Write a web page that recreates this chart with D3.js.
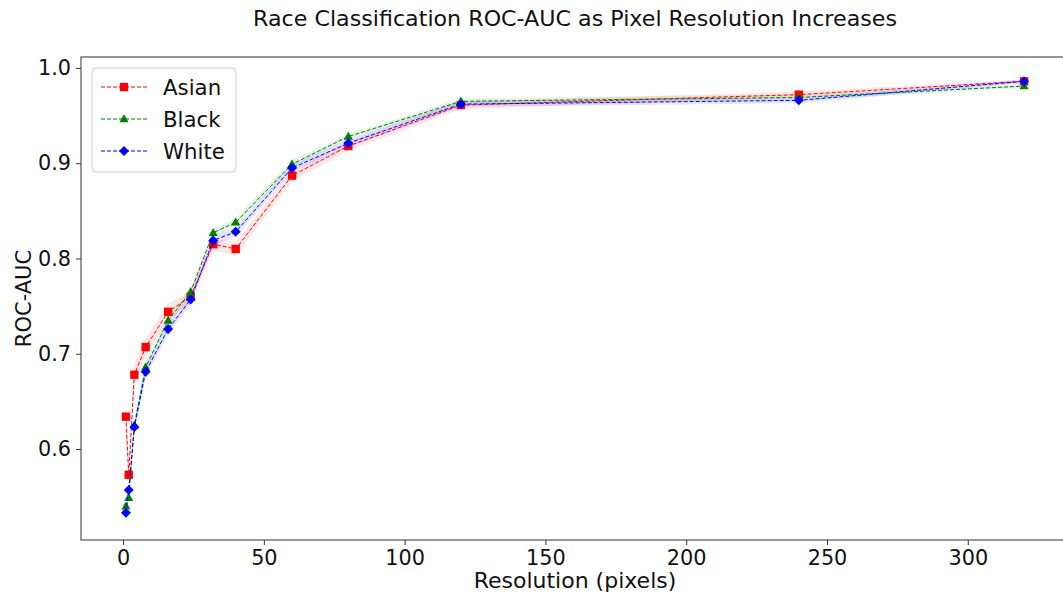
<!DOCTYPE html>
<html>
<head>
<meta charset="utf-8">
<script src="https://cdn.jsdelivr.net/npm/d3@7"></script>
<style>
  body { margin: 0; background: #fff; }
  svg { font-family: "DejaVu Sans", sans-serif; }
</style>
</head>
<body>
<script>
// chart data
const resolutions = [1, 2, 4, 8, 16, 24, 32, 40, 60, 80, 120, 240, 320];
const asian = [0.634, 0.573, 0.678, 0.707, 0.744, 0.760, 0.815, 0.810, 0.887, 0.918, 0.961, 0.972, 0.986];
const black = [0.540, 0.549, 0.625, 0.686, 0.735, 0.765, 0.827, 0.838, 0.899, 0.928, 0.965, 0.969, 0.981];
const white = [0.533, 0.557, 0.623, 0.681, 0.726, 0.757, 0.819, 0.828, 0.895, 0.921, 0.962, 0.966, 0.986];
const asianStd = [0.012, 0.010, 0.012, 0.009, 0.009, 0.006, 0.006, 0.007, 0.006, 0.005, 0.004, 0.003, 0.002];
const blackStd = [0.004, 0.004, 0.005, 0.005, 0.005, 0.004, 0.004, 0.004, 0.004, 0.003, 0.003, 0.003, 0.002];
const whiteStd = [0.004, 0.004, 0.006, 0.006, 0.006, 0.005, 0.005, 0.005, 0.004, 0.004, 0.003, 0.003, 0.002];
const xTicks = [0, 50, 100, 150, 200, 250, 300];
const yTicks = [0.6, 0.7, 0.8, 0.9, 1.0];

const series = [
  {name: 'Asian', values: asian, std: asianStd, color: 'red', marker: 'square'},
  {name: 'Black', values: black, std: blackStd, color: 'green', marker: 'triangle'},
  {name: 'White', values: white, std: whiteStd, color: 'blue', marker: 'diamond'}
];

const width = 1063, height = 598;
const plot = {left: 81, right: 1069, top: 57, bottom: 540};

const svg = d3.select('body').append('svg')
  .attr('width', width)
  .attr('height', height);

const x = d3.scaleLinear().domain([-14.95, 335.95]).range([plot.left, plot.right]);
const y = d3.scaleLinear().domain([0.5045, 1.0115]).range([plot.bottom, plot.top]);

// marker shapes
function markerPath(type) {
  if (type === 'square') return d3.symbol(d3.symbolSquare, 70)();
  if (type === 'triangle') return 'M0,-4.8L4.6,3.3L-4.6,3.3Z';
  return 'M0,-5L5,0L0,5L-5,0Z';
}

const g = svg.append('g');

series.forEach(s => {
  const pts = resolutions.map((r, i) => ({x: r, v: s.values[i], sd: s.std[i]}));

  g.append('path')
    .datum(pts)
    .attr('fill', s.color)
    .attr('fill-opacity', 0.1)
    .attr('d', d3.area().x(d => x(d.x)).y0(d => y(d.v - d.sd)).y1(d => y(d.v + d.sd)));

  g.append('path')
    .datum(pts)
    .attr('fill', 'none')
    .attr('stroke', s.color)
    .attr('stroke-width', 1)
    .attr('stroke-dasharray', '4,2')
    .attr('d', d3.line().x(d => x(d.x)).y(d => y(d.v)));

  g.selectAll(null)
    .data(pts)
    .enter()
    .append('path')
    .attr('transform', d => `translate(${x(d.x)},${y(d.v)})`)
    .attr('d', markerPath(s.marker))
    .attr('fill', s.color);
});

// axes
const xAxis = svg.append('g')
  .attr('transform', `translate(0,${plot.bottom})`)
  .call(d3.axisBottom(x).tickValues(xTicks).tickSize(5).tickPadding(5).tickFormat(d3.format('d')));
const yAxis = svg.append('g')
  .attr('transform', `translate(${plot.left},0)`)
  .call(d3.axisLeft(y).tickValues(yTicks).tickSize(5).tickPadding(5).tickFormat(d3.format('.1f')));

[xAxis, yAxis].forEach(a => {
  a.select('.domain').remove();
  a.selectAll('.tick line').attr('stroke', '#333');
  a.selectAll('.tick text').attr('font-size', '20.8px').attr('fill', '#111').attr('font-family', 'DejaVu Sans');
});

// frame
svg.append('rect')
  .attr('x', plot.left).attr('y', plot.top)
  .attr('width', plot.right - plot.left).attr('height', plot.bottom - plot.top)
  .attr('fill', 'none').attr('stroke', '#444').attr('stroke-width', 1.1);

// titles
svg.append('text')
  .attr('x', (plot.left + plot.right) / 2).attr('y', 26)
  .attr('text-anchor', 'middle').attr('font-size', '20.8px').attr('fill', '#111')
  .attr('textLength', 644).attr('lengthAdjust', 'spacingAndGlyphs')
  .text('Race Classification ROC-AUC as Pixel Resolution Increases');

svg.append('text')
  .attr('x', (plot.left + plot.right) / 2).attr('y', 588)
  .attr('text-anchor', 'middle').attr('font-size', '22px').attr('fill', '#111')
  .text('Resolution (pixels)');

svg.append('text')
  .attr('transform', `translate(31,${(plot.top + plot.bottom) / 2}) rotate(-90)`)
  .attr('text-anchor', 'middle').attr('font-size', '21px').attr('fill', '#111')
  .text('ROC-AUC');

// legend
const legend = svg.append('g').attr('transform', 'translate(92,68)');
legend.append('rect')
  .attr('width', 144).attr('height', 104).attr('rx', 4)
  .attr('fill', 'white').attr('fill-opacity', 0.8)
  .attr('stroke', '#d0d0d0');

series.forEach((s, i) => {
  const row = legend.append('g').attr('transform', `translate(0,${19 + i * 32})`);
  row.append('line')
    .attr('x1', 9).attr('x2', 55)
    .attr('stroke', s.color).attr('stroke-width', 1).attr('stroke-dasharray', '4,2');
  row.append('path')
    .attr('transform', 'translate(32,0)')
    .attr('d', markerPath(s.marker))
    .attr('fill', s.color);
  row.append('text')
    .attr('x', 71).attr('y', 7.5)
    .attr('font-size', '21.3px').attr('fill', '#111')
    .text(s.name);
});
</script>
</body>
</html>
